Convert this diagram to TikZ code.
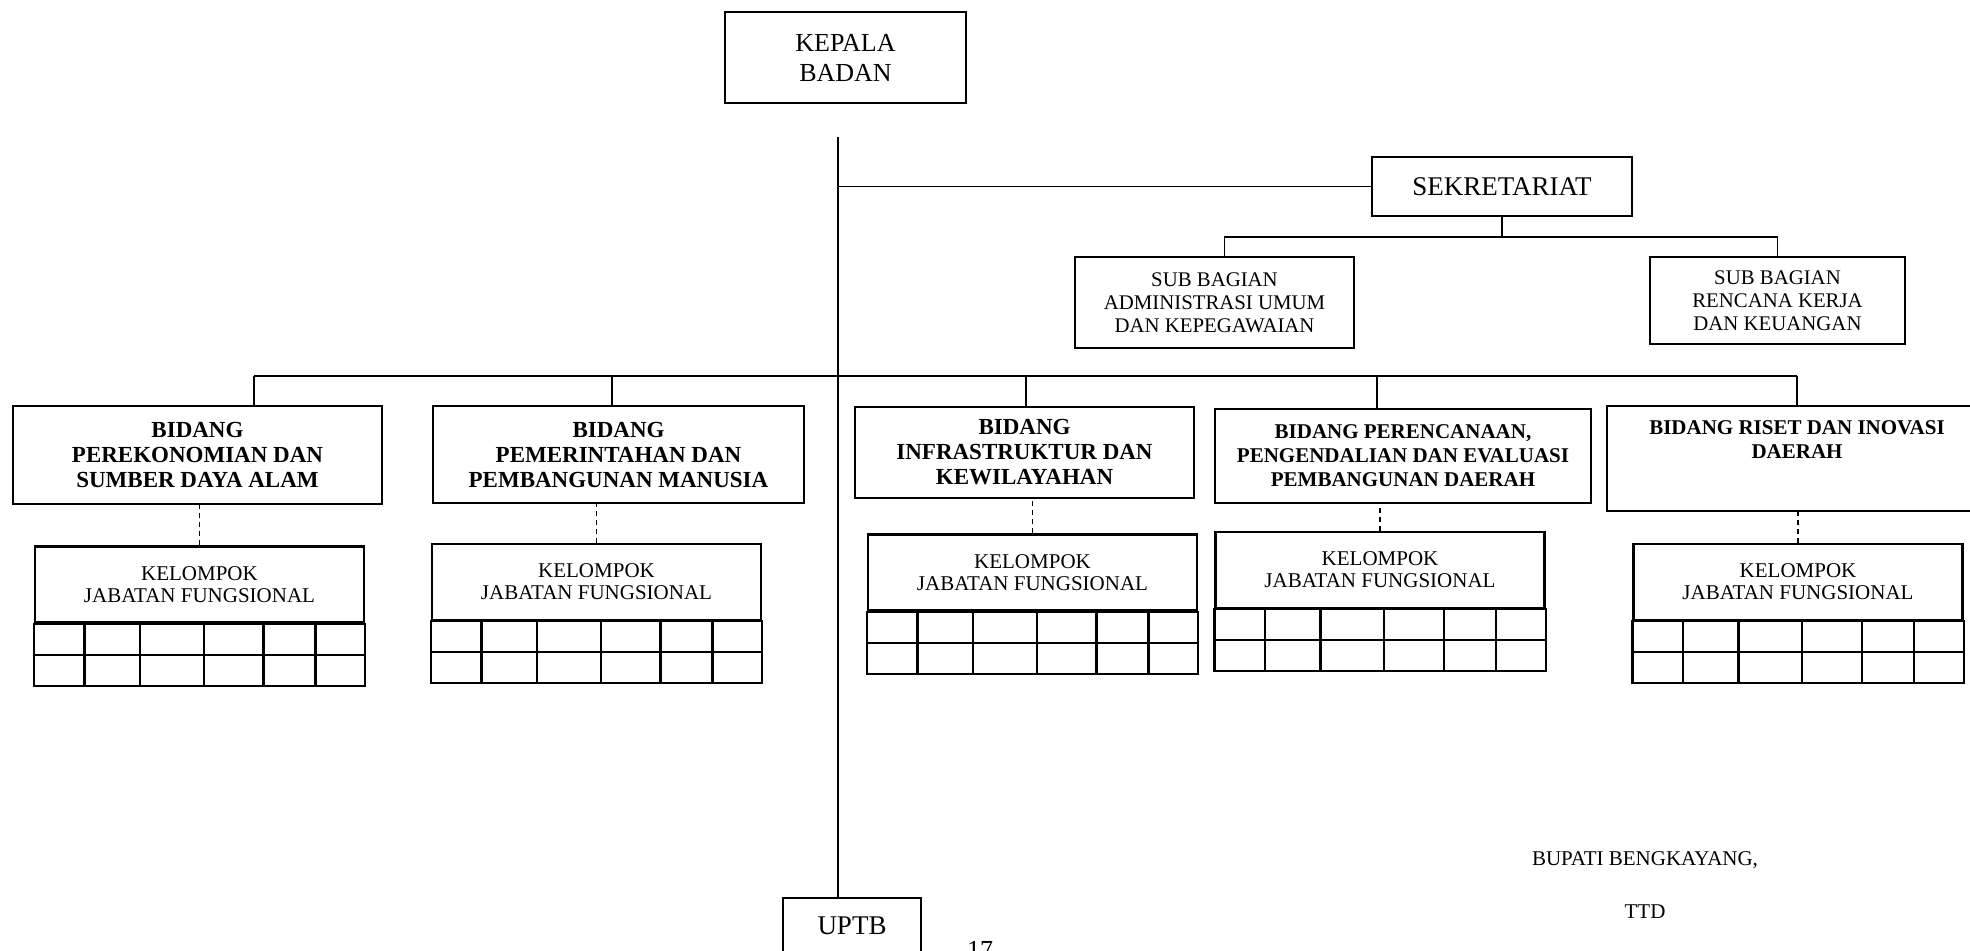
\documentclass[tikz,border=0pt]{standalone}
\usepackage{fontspec}
\setmainfont{Liberation Serif}
\usetikzlibrary{calc}
\newcommand{\jabgrid}[1]{%
    \draw[kotak] (#1.south west) rectangle ($(#1.south east) + (0, 62)$);
    \draw[kotak] ($(#1.south west) + (0, 31)$) -- ($(#1.south east) + (0, 31)$);
    \foreach \f in {.153, .32, .513, .693, .85} {
        \draw[kotak] ($(#1.south west)!\f!(#1.south east)$) -- ++(0, 62);
    }
}

\begin{document}
\begin{tikzpicture}
    [ x=.5pt, y=-.5pt,
      font={\fontsize{11.5}{12.5}\selectfont},
      kotak/.style={draw, line width=1.1pt},
      garis/.style={line width=.9pt},
      putus/.style={line width=.9pt, dash pattern=on 2.5pt off 2pt},
      pimpinan/.style={kotak, align=center, inner sep=0pt,
                       font={\fontsize{13}{15}\selectfont}},
      bidang/.style={kotak, align=center, inner sep=0pt,
                     font={\bfseries\fontsize{11.5}{12.5}\selectfont}},
      bidangkecil/.style={bidang,
                          font={\bfseries\fontsize{10.5}{12}\selectfont}},
      subbag/.style={kotak, align=center, inner sep=0pt,
                     font={\fontsize{10.4}{11.5}\selectfont}},
      kelompok/.style={kotak, align=center, inner sep=0pt,
                       minimum width=164.5pt, minimum height=38pt,
                       font={\fontsize{10.5}{11}\selectfont}}
    ]
    \useasboundingbox (0, 0) rectangle (1970, 950);

    % Kepala badan and UPTB
    \node[pimpinan, minimum width=120.5pt, minimum height=45.5pt]
        (kepala) at (845.5, 57.5) {KEPALA\\BADAN};
    \node[pimpinan, minimum width=69pt, minimum height=28pt,
          font={\fontsize{13.5}{15}\selectfont}]
        (uptb) at (852, 926) {UPTB};
    \coordinate (atas) at (838, 137);
    \draw[garis] (atas) -- (atas |- uptb.north);

    % Sekretariat
    \node[pimpinan, minimum width=130pt, minimum height=29.5pt,
          font={\fontsize{13.5}{15}\selectfont}]
        (sekretariat) at (1502, 186.5) {SEKRETARIAT};
    \draw[garis] (sekretariat.west) -- (sekretariat.west -| atas);
    \node[subbag, minimum width=139.5pt, minimum height=45.5pt]
        (subumum) at (1214.5, 302.5)
        {SUB BAGIAN\\ADMINISTRASI UMUM\\DAN KEPEGAWAIAN};
    \node[subbag, minimum width=127.5pt, minimum height=43.5pt]
        (subrencana) at (1777.5, 300.5)
        {SUB BAGIAN\\RENCANA KERJA\\DAN KEUANGAN};
    \coordinate (cabang) at (1502, 237);
    \draw[garis] (sekretariat.south) -- (cabang);
    \draw[garis] ($(subumum.north) + (10, 0)$) |- (cabang)
        -| (subrencana.north);

    % Bidang
    \node[bidang, minimum width=184.5pt, minimum height=49pt]
        (bid1) at (197.5, 455)
        {BIDANG\\PEREKONOMIAN DAN\\SUMBER DAYA ALAM};
    \node[bidang, minimum width=185.5pt, minimum height=48.5pt]
        (bid2) at (618.5, 454.5)
        {BIDANG\\PEMERINTAHAN DAN\\PEMBANGUNAN MANUSIA};
    \node[bidang, minimum width=169.5pt, minimum height=45.5pt]
        (bid3) at (1024.5, 452.5)
        {BIDANG\\INFRASTRUKTUR DAN\\KEWILAYAHAN};
    \node[bidangkecil, minimum width=188pt, minimum height=47pt]
        (bid4) at (1403, 456)
        {BIDANG PERENCANAAN,\\PENGENDALIAN DAN EVALUASI\\PEMBANGUNAN DAERAH};
    \node[bidangkecil, minimum width=190pt, minimum height=52.5pt]
        (bid5) at (1797, 458.5)
        {BIDANG RISET DAN INOVASI\\DAERAH\\[6.5pt]\mbox{}};

    % Garis bidang
    \foreach \i/\x in {1/254, 2/612, 3/1026, 4/1377, 5/1797} {
        \coordinate (t\i) at (\x, 376);
        \draw[garis] (t\i) -- (t\i |- bid\i.north);
    }
    \draw[garis] (t1) -- (t5);

    % Kelompok jabatan fungsional
    \foreach \nama/\x/\y in {kel1/199.5/584.5, kel2/596.5/582,
                             kel3/1032.5/572.5, kel4/1380/570,
                             kel5/1798/582} {
        \node[kelompok] (\nama) at (\x, \y)
            {KELOMPOK\\JABATAN FUNGSIONAL};
        \jabgrid{\nama}
    }
    \foreach \i in {1, ..., 5} {
        \draw[putus] (kel\i.north) -- (kel\i.north |- bid\i.south);
    }

    % Pengesahan
    \node[font={\fontsize{10.5}{13}\selectfont}]
        (bupati) at (1645, 860) {BUPATI BENGKAYANG,};
    \node[font={\fontsize{10.5}{13}\selectfont}]
        (ttd) at (1645, 912) {TTD};
    \node[anchor=base, font={\fontsize{13}{15}\selectfont}]
        (halaman) at (980, 958) {17};

\end{tikzpicture}
\end{document}
